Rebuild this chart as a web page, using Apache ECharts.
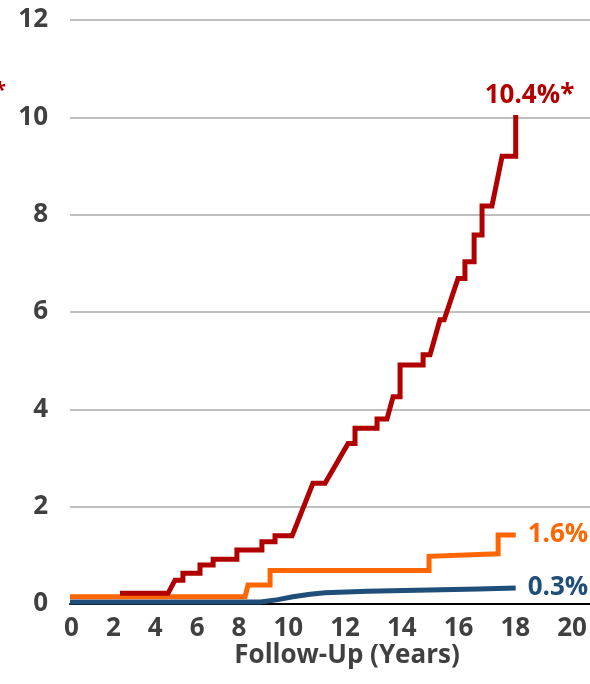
<!DOCTYPE html>
<html>
<head>
<meta charset="utf-8">
<script src="https://cdn.jsdelivr.net/npm/echarts@6/dist/echarts.min.js"></script>
<style>
  html, body { margin: 0; padding: 0; background: #fff; }
  #chart { width: 590px; height: 684px; }
</style>
</head>
<body>
<div id="chart"></div>
<script>
// x tick labels (typed as one text line in the original figure)
const xTickLabels = ['0', '2', '4', '6', '8', '10', '12', '14', '16', '18', '20']

// red curve (follow-up years / cumulative %)
const redYears = [2.02, 3.96, 4.24, 4.56, 4.56, 5.25, 5.25, 5.78, 5.78, 6.74, 6.74, 7.75, 7.75, 8.28, 8.28, 8.97,
  9.81, 10.30, 11.23, 11.51, 11.51, 12.40, 12.40, 12.80, 13.05, 13.33, 13.33, 14.26, 14.26, 14.54,
  14.94, 15.11, 15.67, 15.95, 15.95, 16.32, 16.32, 16.64, 16.64, 17.04, 17.45, 18.0, 18.0]
const redRisk = [0.22, 0.22, 0.49, 0.49, 0.63, 0.63, 0.80, 0.80, 0.92, 0.92, 1.11, 1.11, 1.28, 1.28, 1.40, 1.40,
  2.48, 2.48, 3.30, 3.30, 3.61, 3.61, 3.80, 3.80, 4.26, 4.26, 4.91, 4.91, 5.12, 5.12,
  5.84, 5.84, 6.69, 6.69, 7.03, 7.03, 7.58, 7.58, 8.18, 8.18, 9.20, 9.20, 10.05]

// orange curve
const orangeYears = [0, 7.07, 7.19, 8.08, 8.08, 14.50, 14.50, 17.29, 17.29, 18.0]
const orangeRisk = [0.15, 0.15, 0.39, 0.39, 0.69, 0.69, 0.98, 1.03, 1.42, 1.42]

// blue curve
const blueYears = [0, 7.7, 8.4, 9.0, 9.7, 10.3, 12.0, 14.5, 16.5, 18.0]
const blueRisk = [0.04, 0.04, 0.09, 0.15, 0.20, 0.23, 0.26, 0.29, 0.31, 0.33]

const endLabels = ['10.4%*', '1.6%', '0.3%']

const FONT = '"Open Sans", "DejaVu Sans", sans-serif'
const chart = echarts.init(document.getElementById('chart'))

function pairs(xs, ys) {
  return xs.map((x, i) => [x, ys[i]])
}

function lineSeries(name, color, data, text, labelPos) {
  return {
    name,
    type: 'line',
    showSymbol: false,
    silent: true,
    lineStyle: { color, width: 5, cap: 'butt', join: 'miter' },
    endLabel: Object.assign({
      show: true,
      formatter: text,
      fontFamily: FONT, fontWeight: 'bold', fontSize: 26, color,
    }, labelPos),
    data,
  }
}

chart.setOption({
  animation: false,
  grid: { left: 70, right: 0, top: 20, bottom: 80 },
  xAxis: {
    type: 'value',
    min: 0,
    max: 21,
    splitLine: { show: false },
    axisTick: { show: false },
    axisLabel: { show: false },
    axisLine: { show: true, lineStyle: { color: '#000', width: 2 } },
    name: 'Follow-Up (Years)',
    nameLocation: 'middle',
    nameGap: 39,
    nameTextStyle: {
      fontFamily: FONT, fontWeight: 'bold', fontSize: 26, color: '#404040',
      padding: [0, 0, 0, 34],
    },
  },
  yAxis: {
    type: 'value',
    min: 0,
    max: 12,
    interval: 2,
    axisLine: { show: false },
    axisTick: { show: false },
    axisLabel: {
      margin: 22,
      fontFamily: FONT, fontWeight: 'bold', fontSize: 26, color: '#404040',
    },
    splitLine: { lineStyle: { color: '#BFBFBF', width: 2 } },
  },
  graphic: [
    {
      type: 'text', left: 64, top: 616,
      style: { text: xTickLabels.join('    '), font: 'bold 26px ' + FONT, fill: '#404040' },
    },
    {
      type: 'text', left: -6, top: 80,
      style: { text: '*', font: 'bold 22px ' + FONT, fill: '#B00000' },
    },
  ],
  series: [
    lineSeries('blue', '#1F4E79', pairs(blueYears, blueRisk), endLabels[2], { distance: 12 }),
    lineSeries('orange', '#FF6600', pairs(orangeYears, orangeRisk), endLabels[1], { distance: 12 }),
    lineSeries('red', '#B00000', pairs(redYears, redRisk), endLabels[0], { distance: 0, offset: [-31, -19] }),
  ],
})
</script>
</body>
</html>
